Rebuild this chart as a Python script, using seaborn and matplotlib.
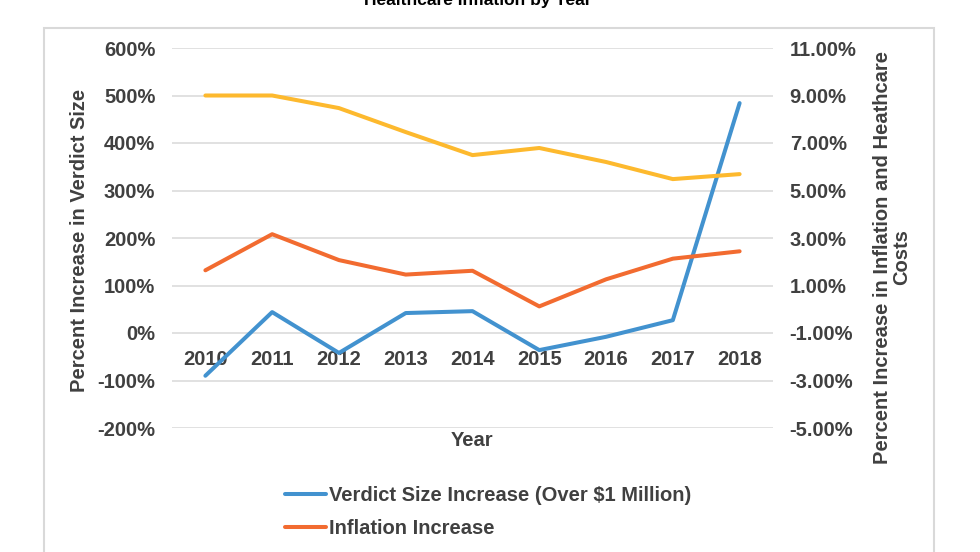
import numpy as np
import pandas as pd
import matplotlib
matplotlib.use("Agg")
import matplotlib.pyplot as plt
import matplotlib.patches as patches
from matplotlib.ticker import FuncFormatter
import seaborn as sns

# data
years = ['2010', '2011', '2012', '2013', '2014', '2015', '2016', '2017', '2018']
verdict_increase = [-90, 44, -42, 42, 46, -36, -8, 27, 484]          # left axis, %
inflation_increase = [1.64, 3.16, 2.07, 1.46, 1.62, 0.12, 1.26, 2.13, 2.44]  # right axis, %
healthcare_increase = [9.0, 9.0, 8.47, 7.46, 6.49, 6.79, 6.2, 5.48, 5.69]    # right axis, %

left_ticks = [-200, -100, 0, 100, 200, 300, 400, 500, 600]
right_ticks = [-5, -3, -1, 1, 3, 5, 7, 9, 11]

df = pd.DataFrame({'year': years,
                   'verdict': verdict_increase,
                   'inflation': inflation_increase,
                   'healthcare': healthcare_increase})

sns.set_style("white")
plt.rcParams['font.family'] = ['Liberation Sans', 'DejaVu Sans']
plt.rcParams['font.weight'] = 'bold'

blue = '#4292CF'
orange = '#F26B30'
yellow = '#FDB92E'
text_col = '#404040'
grid_col = '#D9D9D9'
fs = 14.5

W, H = 980, 552
fig = plt.figure(figsize=(W / 100, H / 100), dpi=100)

# plot area in pixels: x 172..773, y 48..428
ax = fig.add_axes([172 / W, 1 - 428 / H, (773 - 172) / W, (428 - 48) / H])
ax2 = ax.twinx()

sns.lineplot(data=df, x='year', y='verdict', ax=ax, color=blue, linewidth=2.9,
             legend=False)
sns.lineplot(data=df, x='year', y='healthcare', ax=ax2, color=yellow, linewidth=2.9,
             legend=False)
sns.lineplot(data=df, x='year', y='inflation', ax=ax2, color=orange, linewidth=2.9,
             legend=False)

ax.set_xlim(-0.5, 8.5)
ax.set_ylim(-200, 600)
ax.set_yticks(left_ticks)
ax.yaxis.set_major_formatter(FuncFormatter(lambda v, p: f'{v:.0f}%'))
ax2.set_ylim(-5, 11)
ax2.set_yticks(right_ticks)
ax2.yaxis.set_major_formatter(FuncFormatter(lambda v, p: f'{v:.2f}%'))

ax.grid(axis='y', color=grid_col, linewidth=1.1)
ax.set_axisbelow(True)
for a in (ax, ax2):
    for s in a.spines.values():
        s.set_visible(False)

# category axis crosses at 0%
ax.spines['bottom'].set_position(('data', 0))
ax.tick_params(axis='x', length=0, pad=12, labelsize=fs, labelcolor=text_col)
ax.tick_params(axis='y', length=0, pad=12, labelsize=fs, labelcolor=text_col)
ax2.tick_params(axis='y', length=0, pad=12, labelsize=fs, labelcolor=text_col)

ax.set_xlabel('')
ax.set_ylabel('Percent Increase in Verdict Size', fontsize=fs, color=text_col,
              fontweight='bold')
ax.yaxis.set_label_coords((89 - 172) / (773 - 172), (428 - 240) / 380)
ax2.set_ylabel('Percent Increase in Inflation and Heathcare\nCosts', fontsize=fs,
               color=text_col, fontweight='bold', rotation=90, linespacing=1.0)
ax2.yaxis.set_label_coords((873 - 172) / (773 - 172), (428 - 257) / 380)

fig.text(472 / W, 1 - 441 / H, 'Year', ha='center', va='center', fontsize=fs,
         color=text_col, fontweight='bold')
fig.text(478 / W, 1 - 5 / H, 'Healthcare Inflation by Year', ha='center',
         va='baseline', fontsize=12.5, color='#000000', fontweight='bold')

# chart frame
fig.patches.append(patches.Rectangle((44 / W, -0.05), (934 - 44) / W, 1.05 - 28 / H,
                                     transform=fig.transFigure, fill=False,
                                     edgecolor=grid_col, linewidth=1.5))

handles = [ax.get_lines()[0], ax2.get_lines()[1]]
labels = ['Verdict Size Increase (Over $1 Million)', 'Inflation Increase']
fig.legend(handles, labels, loc='upper left', bbox_to_anchor=(285 / W, 1 - 486 / H),
           frameon=False, fontsize=fs, handlelength=2.05, handletextpad=0.12,
           borderpad=0, borderaxespad=0, labelspacing=0.72, labelcolor=text_col)

fig.savefig('out.png', dpi=100)
